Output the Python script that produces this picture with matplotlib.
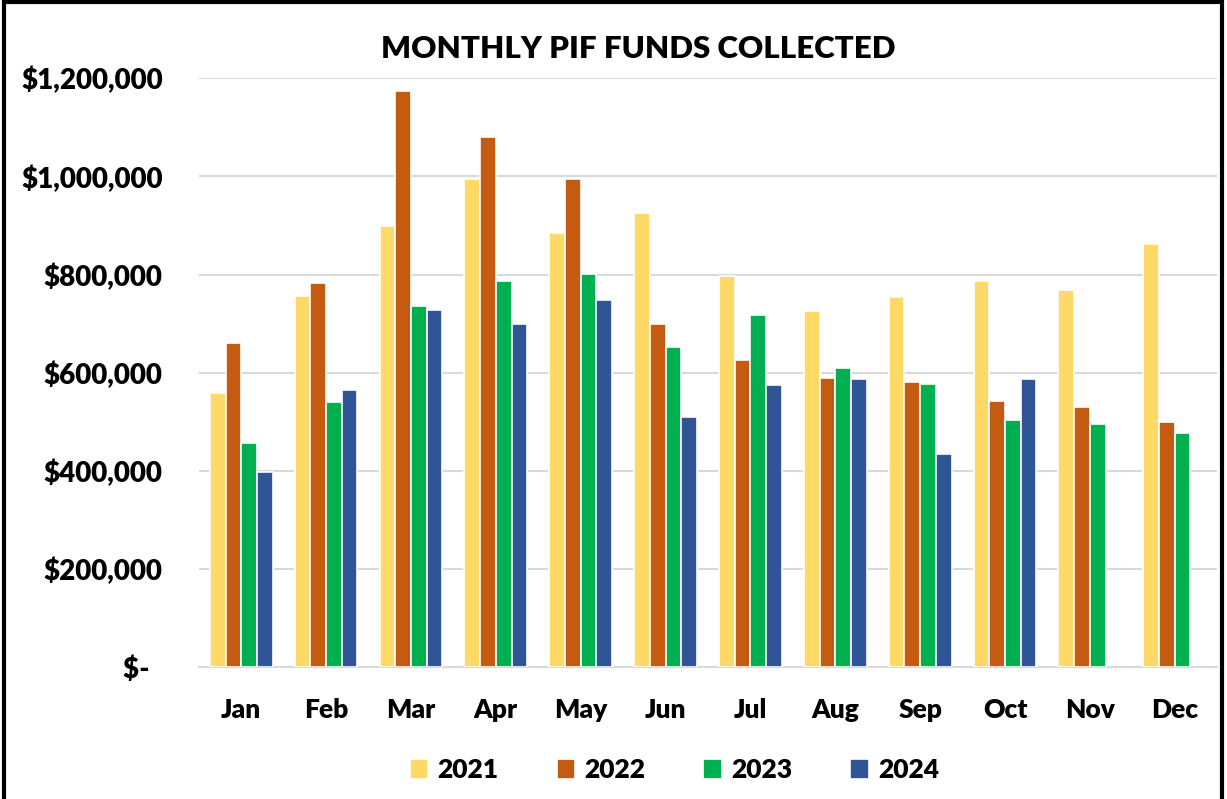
import numpy as np
import matplotlib
matplotlib.use("Agg")
import matplotlib.pyplot as plt
from matplotlib.patches import Rectangle
from matplotlib.ticker import FuncFormatter

MESES = ["Jan", "Feb", "Mar", "Apr", "May", "Jun",
         "Jul", "Aug", "Sep", "Oct", "Nov", "Dec"]
ANIOS = ["2021", "2022", "2023", "2024"]

v2021 = [558000, 756000, 898000, 995000, 884000, 925000,
         798000, 725000, 754000, 787000, 768000, 862000]
v2022 = [660000, 783000, 1174000, 1080000, 995000, 699000,
         626000, 590000, 582000, 543000, 531000, 499000]
v2023 = [456000, 540000, 737000, 786000, 802000, 652000,
         717000, 610000, 577000, 503000, 495000, 477000]
v2024 = [398000, 565000, 727000, 699000, 748000, 510000,
         576000, 587000, 435000, 587000, np.nan, np.nan]

SERIES = [v2021, v2022, v2023, v2024]
COLORES = ["#FFD966", "#C55A11", "#00B050", "#2F5597"]

plt.rcParams["font.family"] = ["Lato", "DejaVu Sans"]
plt.rcParams["font.weight"] = "heavy"

fig = plt.figure(figsize=(12.27, 7.99), dpi=100)
ax = fig.add_axes([0.162, 0.165, 0.830, 0.737])

x = np.arange(len(MESES))
paso = 0.185
for i, (vals, color, anio) in enumerate(zip(SERIES, COLORES, ANIOS)):
    ax.bar(x + (i - 1.5) * paso, vals, width=paso, color=color,
           edgecolor="white", linewidth=1.2, label=anio, zorder=3)

ax.set_xlim(-0.5, len(MESES) - 0.5)
ax.set_ylim(0, 1200000)
ax.set_yticks(np.arange(0, 1200001, 200000))
ax.yaxis.set_major_formatter(FuncFormatter(
    lambda v, p: "$-  " if v == 0 else f"${v:,.0f}"))
ax.grid(axis="y", color="#D9D9D9", linewidth=1.5, zorder=0)
for lado in ["top", "right", "left"]:
    ax.spines[lado].set_visible(False)
ax.spines["bottom"].set_color("#D9D9D9")
ax.spines["bottom"].set_linewidth(1.5)
ax.tick_params(axis="both", length=0, labelsize=19)
ax.tick_params(axis="y", labelsize=20, pad=26)
ax.tick_params(axis="x", pad=22)
ax.set_xticks(x)
ax.set_xticklabels(MESES, fontweight="heavy")
for t in ax.get_yticklabels():
    t.set_fontweight("heavy")

fig.text(0.52, 0.939, "MONTHLY PIF FUNDS COLLECTED", ha="center", va="center",
         fontsize=22.5, fontweight="heavy")

ax.legend(loc="center", bbox_to_anchor=(0.467, -0.175), ncol=4, frameon=False,
          fontsize=19, handlelength=0.7, handleheight=0.75, handletextpad=0.35,
          columnspacing=2.2, prop={"weight": "heavy", "size": 19})

fig.patches.append(Rectangle((0.003, -0.01), 0.993, 1.007, transform=fig.transFigure,
                             fill=False, edgecolor="black", linewidth=3))

fig.savefig("out.png", dpi=100)
